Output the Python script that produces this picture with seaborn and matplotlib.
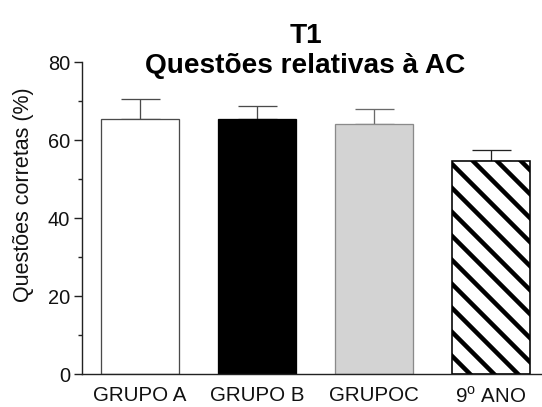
import matplotlib
matplotlib.use("Agg")
import matplotlib.pyplot as plt
from matplotlib.ticker import MultipleLocator, AutoMinorLocator
import seaborn as sns
import pandas as pd

# Percentage of correct answers per group (mean and upper SEM)
groups = ["GRUPO A", "GRUPO B", "GRUPOC", "9$^\\mathrm{o}$ ANO"]
means = [65.4, 65.4, 64.1, 54.6]
sems = [5.1, 3.3, 3.8, 2.8]

fills = ["#ffffff", "#000000", "#d3d3d3", "#ffffff"]
edges = ["#4a4a4a", "#000000", "#8a8a8a", "#000000"]
err_colors = ["#4a4a4a", "#4a4a4a", "#6a6a6a", "#222222"]

sns.set_theme(style="ticks")
plt.rcParams["font.family"] = ["Liberation Sans", "DejaVu Sans"]
plt.rcParams["mathtext.fontset"] = "custom"
plt.rcParams["mathtext.rm"] = "Liberation Sans"
plt.rcParams["hatch.linewidth"] = 4.5
plt.rcParams["hatch.color"] = "black"

df = pd.DataFrame({"grupo": groups, "pct": means})

fig = plt.figure(figsize=(542 / 72, 407 / 72), dpi=72)
ax = fig.add_axes([82 / 542, 1 - 374 / 407, 1 - 82 / 542, (374 - 62) / 407])

sns.barplot(data=df, x="grupo", y="pct", hue="grupo", palette=fills,
            width=0.667, legend=False, ax=ax, zorder=2)

for patch, ec, g in zip(ax.patches, edges, groups):
    patch.set_edgecolor(ec)
    patch.set_linewidth(1.3)
    if g.startswith("9"):
        patch.set_hatch("\\")
        patch.set_linewidth(1.6)

for i, (m, s, c) in enumerate(zip(means, sems, err_colors)):
    ax.errorbar(i, m, yerr=[[0], [s]], fmt="none", ecolor=c,
                elinewidth=1.3, capsize=19.5, capthick=1.3, zorder=1)

ax.set_xlim(-0.496, 3.44)
ax.set_ylim(0, 80)
ax.yaxis.set_major_locator(MultipleLocator(20))
ax.yaxis.set_minor_locator(AutoMinorLocator(2))

for side in ("top", "right"):
    ax.spines[side].set_visible(False)
for side in ("left", "bottom"):
    ax.spines[side].set_linewidth(1.4)
    ax.spines[side].set_color("#222222")

ax.tick_params(axis="y", which="major", length=8, width=1.4, color="#222222",
               labelsize=20, pad=4, labelcolor="#111111")
ax.tick_params(axis="y", which="minor", length=4.5, width=1.4, color="#222222")
ax.tick_params(axis="x", length=0, labelsize=20.5, pad=12, labelcolor="#111111")

ax.set_xlabel("")
ax.set_ylabel("Questões corretas (%)", fontsize=21.5, color="#111111")
ax.yaxis.set_label_coords(-0.104, 0.574)
ax.set_title("T1\nQuestões relativas à AC", fontsize=28, fontweight="bold",
             color="black", x=0.486, y=1.0, pad=-11, linespacing=1.2)

fig.savefig("out.png", dpi=72, facecolor="white")
